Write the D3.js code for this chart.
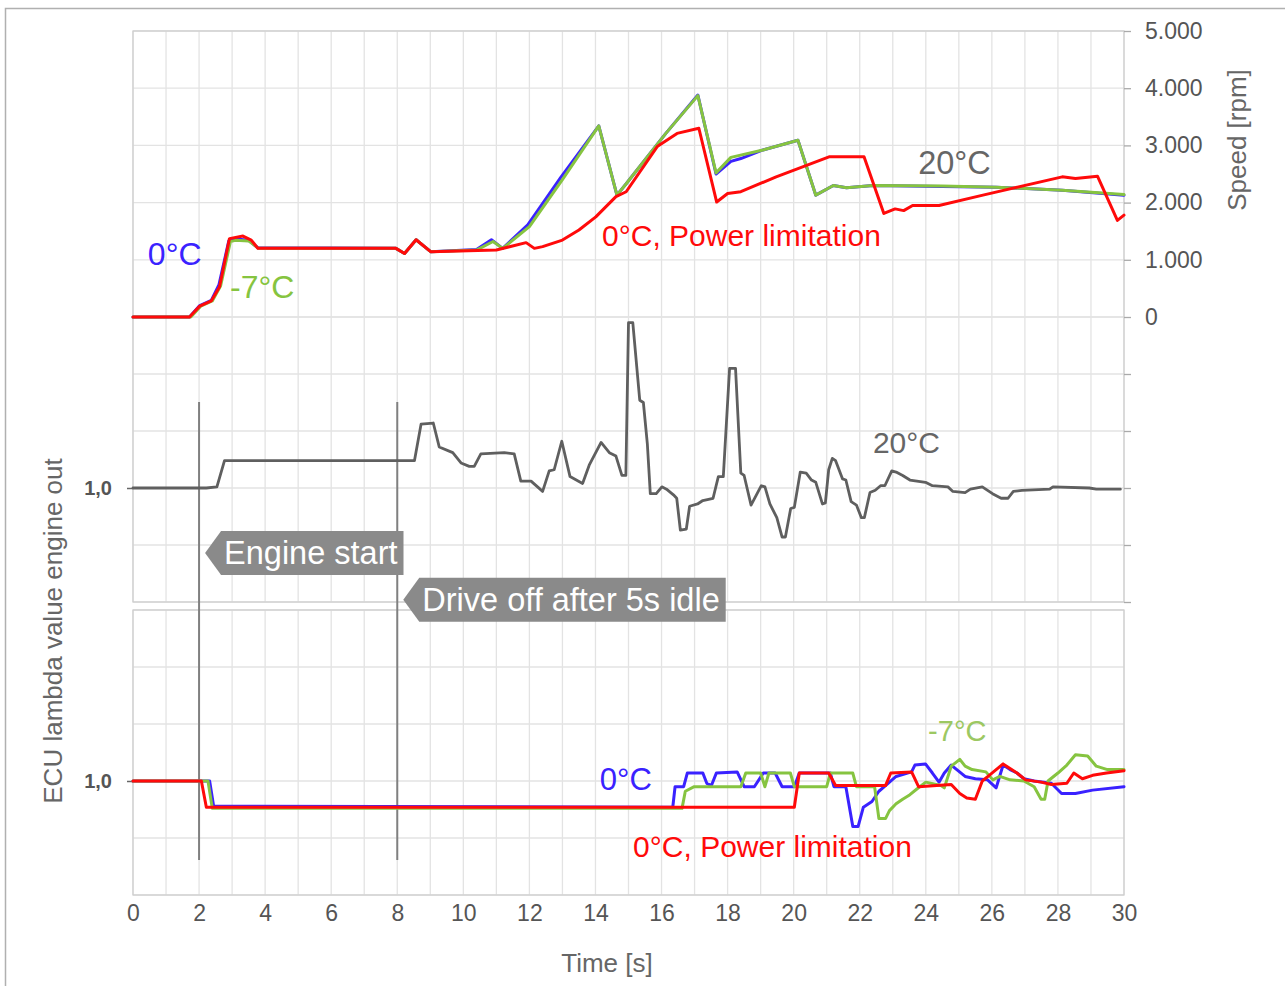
<!DOCTYPE html>
<html>
<head>
<meta charset="utf-8">
<script src="https://cdn.jsdelivr.net/npm/d3@7"></script>
<style>
  body { margin: 0; background: #fff; }
  svg { display: block; font-family: "Liberation Sans", Arial, sans-serif; }
</style>
</head>
<body>
<svg id="chart" width="1285" height="986"></svg>
<script>
// ---- data ----
const timeTicks = [0, 2, 4, 6, 8, 10, 12, 14, 16, 18, 20, 22, 24, 26, 28, 30];
const speedTicks = [0, 1000, 2000, 3000, 4000, 5000];
const speedTickLabels = ["0", "1.000", "2.000", "3.000", "4.000", "5.000"];
const lambdaGrid = [0.9, 0.95, 1.0, 1.05, 1.1, 1.15];
const lambdaLabel = "1,0";
const markerTimes = [2, 8];

// engine speed [rpm] vs time [s]
const speed0C = [[0,0],[1.71,0],[2.02,200],[2.37,290],[2.6,560],[2.9,1330],[3.05,1370],[3.5,1340],[3.78,1210],
  [7.96,1200],[8.22,1110],[8.57,1350],[9.02,1140],[10.4,1180],[10.85,1350],[11.19,1200],[11.95,1610],
  [12.95,2440],[14.1,3340],[14.65,2130],[14.93,2330],[16.13,3210],[17.1,3880],[17.65,2500],[18.1,2720],
  [18.4,2770],[19.07,2920],[20.13,3090],[20.67,2130],[21.2,2300],[21.6,2260],[22.4,2300],[24.5,2280],
  [26.13,2270],[28.13,2215],[30,2130]];
const speedMinus7C = [[0,0],[1.75,0],[2.05,190],[2.4,280],[2.65,540],[2.95,1320],[3.1,1340],[3.5,1330],[3.8,1200],
  [7.96,1200],[8.22,1110],[8.57,1350],[9.02,1140],[10.4,1170],[10.9,1320],[11.19,1200],[12.0,1580],
  [13.0,2400],[14.1,3340],[14.65,2130],[14.93,2330],[16.13,3210],[17.1,3870],[17.65,2520],[18.1,2790],
  [19.07,2920],[20.13,3090],[20.67,2130],[21.2,2300],[21.6,2260],[22.4,2300],[24.5,2290],[26.13,2270],
  [28.13,2215],[30,2140]];
const speed0CPower = [[0,0],[1.71,0],[2.02,190],[2.37,280],[2.62,530],[2.92,1370],[3.33,1415],[3.58,1345],[3.78,1200],
  [7.96,1200],[8.22,1110],[8.57,1350],[9.02,1140],[11.0,1170],[11.9,1300],[12.15,1200],[12.4,1230],
  [13.0,1345],[13.5,1520],[14.01,1750],[14.62,2105],[14.93,2190],[15.87,2980],[16.47,3210],[17.13,3300],
  [17.67,2010],[18.0,2160],[18.4,2190],[19.47,2450],[21.07,2800],[22.13,2800],[22.73,1810],[23.07,1890],
  [23.33,1860],[23.6,1950],[24.4,1950],[25.73,2130],[28.13,2450],[28.53,2420],[29.2,2460],[29.8,1690],[30,1780]];

// ECU lambda, 20 °C (middle panel)
const lambda20C = [[0,1],[2.22,1],[2.54,1.001],[2.77,1.024],[8.52,1.024],[8.72,1.056],[9.09,1.057],[9.27,1.036],
  [9.68,1.031],[9.93,1.022],[10.18,1.019],[10.33,1.019],[10.53,1.03],[11.24,1.031],[11.54,1.03],[11.74,1.006],
  [12.05,1.006],[12.4,0.997],[12.6,1.015],[12.75,1.016],[12.98,1.041],[13.23,1.01],[13.61,1.004],[13.81,1.02],
  [14.17,1.04],[14.42,1.031],[14.62,1.028],[14.8,1.011],[14.92,1.011],[15.0,1.145],[15.13,1.145],[15.34,1.077],
  [15.45,1.075],[15.57,1.039],[15.66,0.995],[15.84,0.995],[16.01,1.001],[16.15,0.999],[16.36,0.994],[16.46,0.991],
  [16.57,0.963],[16.75,0.964],[16.85,0.984],[17.09,0.986],[17.25,0.989],[17.56,0.991],[17.72,1.01],[17.87,1.01],
  [18.06,1.105],[18.24,1.105],[18.4,1.013],[18.5,1.011],[18.71,0.985],[19.02,1.002],[19.13,1.001],[19.28,0.986],
  [19.49,0.974],[19.65,0.957],[19.75,0.957],[19.91,0.982],[20.02,0.983],[20.2,1.014],[20.38,1.013],[20.54,1.007],
  [20.67,1.005],[20.87,0.986],[20.96,0.987],[21.06,1.016],[21.17,1.026],[21.27,1.024],[21.48,1.008],[21.58,1.007],
  [21.74,0.988],[21.9,0.985],[22.05,0.974],[22.14,0.974],[22.31,0.996],[22.47,0.998],[22.63,1.002],[22.76,1.002],
  [22.97,1.015],[23.1,1.014],[23.3,1.011],[23.52,1.007],[23.99,1.005],[24.2,1.002],[24.67,1.001],[24.82,0.997],
  [25.19,0.996],[25.35,0.999],[25.71,1.001],[26.02,0.995],[26.28,0.991],[26.49,0.991],[26.65,0.997],[26.91,0.998],
  [27.75,0.999],[27.85,1.001],[28.95,1.0],[29.16,0.999],[29.89,0.999]];

// ECU lambda, bottom panel
const lambda0C = [[0,1],[2.32,1],[2.44,0.978],[16.34,0.977],[16.41,0.995],[16.67,0.995],[16.78,1.007],[17.25,1.007],
  [17.37,0.998],[17.51,0.996],[17.66,1.007],[18.29,1.008],[18.5,0.995],[18.81,0.995],[19.08,1.007],[19.44,1.007],
  [19.65,0.995],[20.02,0.995],[20.17,1.007],[21.11,1.007],[21.22,0.995],[21.58,0.995],[21.79,0.96],[21.95,0.96],
  [22.11,0.977],[22.37,0.982],[22.58,0.991],[22.78,0.996],[23.1,1.004],[23.57,1.008],[23.67,1.014],[23.99,1.015],
  [24.2,1.007],[24.4,0.999],[24.56,1.007],[24.77,1.014],[25.19,1.004],[25.5,1.002],[25.87,1.001],[26.13,0.994],
  [26.34,1.014],[26.55,1.01],[26.76,1.007],[26.97,1.002],[27.28,1.0],[27.8,0.998],[28.11,0.989],[28.53,0.989],
  [29.05,0.992],[30,0.995]];
const lambdaMinus7C = [[0,1],[2.27,1],[2.4,0.976],[16.62,0.976],[16.72,0.991],[16.99,0.995],[18.4,0.995],[18.55,1.007],
  [19.0,1.007],[19.13,0.995],[19.25,1.007],[19.9,1.007],[20.02,0.995],[21.0,0.995],[21.11,1.007],[21.79,1.007],
  [21.9,0.995],[22.45,0.995],[22.58,0.967],[22.78,0.967],[22.9,0.974],[23.1,0.98],[23.3,0.984],[23.52,0.988],
  [23.73,0.993],[24.0,0.999],[24.46,0.996],[24.56,0.994],[24.77,1.013],[25.03,1.019],[25.19,1.013],[25.4,1.01],
  [25.82,1.008],[26.03,1.001],[26.24,1.004],[26.55,1.001],[26.97,1.0],[27.28,0.995],[27.49,0.984],[27.6,0.984],
  [27.7,1.0],[28.0,1.007],[28.27,1.014],[28.53,1.023],[28.9,1.022],[29.16,1.013],[29.5,1.01],[30,1.01]];
const lambda0CPower = [[0,1],[2.07,1],[2.22,0.977],[20.02,0.977],[20.17,1.007],[21.06,1.007],[21.27,0.996],[22.78,0.996],
  [22.94,1.007],[23.57,1.008],[23.78,0.995],[24.77,0.997],[25.03,0.989],[25.24,0.985],[25.5,0.984],[25.71,1.0],
  [25.92,1.005],[26.34,1.015],[26.76,1.007],[27.02,1.001],[27.49,0.999],[27.8,0.997],[28.27,0.998],[28.48,1.007],
  [28.74,1.002],[29.05,1.005],[29.47,1.007],[30,1.009]];

// ---- drawing ----
const BLUE = "#3a22ff", GREEN = "#86c440", RED = "#ff0a0a", GRAY = "#666";
const svg = d3.select("#chart");

const x = d3.scaleLinear().domain([0, 30]).range([133, 1124]);
const ySpeed = d3.scaleLinear().domain([0, 5000]).range([317, 31]);
const yMid = d3.scaleLinear().domain([0.9, 1.15]).range([602, 317]);
const yBot = d3.scaleLinear().domain([0.9, 1.15]).range([895, 610]);

// outer frame
svg.append("rect").attr("x", 5.5).attr("y", 8.5).attr("width", 1300).attr("height", 1000)
  .attr("fill", "none").attr("stroke", "#b0b0b0").attr("stroke-width", 1.5);

// grids
const grid = svg.append("g").attr("stroke", "#e3e3e3").attr("stroke-width", 1.3);
const seconds = d3.range(0, 31);
grid.selectAll(".vu").data(seconds).join("line")
  .attr("x1", d => x(d)).attr("x2", d => x(d)).attr("y1", ySpeed(5000)).attr("y2", yMid(0.9));
grid.selectAll(".vb").data(seconds).join("line").attr("class", "vb")
  .attr("x1", d => x(d)).attr("x2", d => x(d)).attr("y1", yBot(1.15)).attr("y2", yBot(0.9));
grid.selectAll(".hs").data(speedTicks).join("line").attr("class", "hs")
  .attr("x1", x(0)).attr("x2", x(30)).attr("y1", d => ySpeed(d)).attr("y2", d => ySpeed(d));
grid.selectAll(".hm").data(lambdaGrid).join("line").attr("class", "hm")
  .attr("x1", x(0)).attr("x2", x(30)).attr("y1", d => yMid(d)).attr("y2", d => yMid(d));
grid.selectAll(".hb").data(lambdaGrid).join("line").attr("class", "hb")
  .attr("x1", x(0)).attr("x2", x(30)).attr("y1", d => yBot(d)).attr("y2", d => yBot(d));

// panel borders
svg.append("rect").attr("x", x(0)).attr("y", ySpeed(5000)).attr("width", x(30) - x(0))
  .attr("height", yMid(0.9) - ySpeed(5000)).attr("fill", "none").attr("stroke", "#cfcfcf").attr("stroke-width", 1.3);
svg.append("rect").attr("x", x(0)).attr("y", yBot(1.15)).attr("width", x(30) - x(0))
  .attr("height", yBot(0.9) - yBot(1.15)).attr("fill", "none").attr("stroke", "#cfcfcf").attr("stroke-width", 1.3);

// right speed axis
const axRight = svg.append("g").attr("transform", `translate(${x(30)},0)`)
  .call(d3.axisRight(ySpeed).tickValues(speedTicks).tickSize(7).tickPadding(14)
    .tickFormat((d, i) => speedTickLabels[i]));
axRight.append("g").call(d3.axisRight(yMid).tickValues(lambdaGrid.slice(0, 5)).tickSize(7).tickFormat(""));
axRight.selectAll(".domain").remove();
axRight.selectAll("line").attr("stroke", "#aaa").attr("stroke-width", 1.3);
axRight.selectAll("text").attr("fill", "#555").style("font-size", "23px");

// left lambda labels
[yMid, yBot].forEach(sc => {
  const g = svg.append("g").attr("transform", `translate(${x(0)},0)`)
    .call(d3.axisLeft(sc).tickValues([1.0]).tickSize(6).tickPadding(15).tickFormat(() => lambdaLabel));
  g.select(".domain").remove();
  g.selectAll("line").attr("stroke", "#666").attr("stroke-width", 1.5);
  g.selectAll("text").attr("fill", "#555").style("font-size", "20px").style("font-weight", "bold");
});

// bottom time axis
const axBottom = svg.append("g").attr("transform", `translate(0,${yBot(0.9)})`)
  .call(d3.axisBottom(x).tickValues(timeTicks).tickSize(0).tickPadding(10));
axBottom.select(".domain").remove();
axBottom.selectAll("text").attr("fill", "#555").style("font-size", "23px");

// axis titles
svg.append("text").attr("x", 607).attr("y", 972).attr("text-anchor", "middle")
  .attr("fill", GRAY).style("font-size", "26px").text("Time [s]");
svg.append("text").attr("transform", "translate(1246,140) rotate(-90)").attr("text-anchor", "middle")
  .attr("fill", GRAY).style("font-size", "26px").text("Speed [rpm]");
svg.append("text").attr("transform", "translate(62,631) rotate(-90)").attr("text-anchor", "middle")
  .attr("fill", GRAY).style("font-size", "26px").text("ECU lambda value engine out");

// event markers
svg.append("g").selectAll("line").data(markerTimes).join("line")
  .attr("x1", d => x(d)).attr("x2", d => x(d)).attr("y1", 402).attr("y2", 860)
  .attr("stroke", "#808080").attr("stroke-width", 2);

// lines
const drawLine = (data, yScale, color, width) => svg.append("path").datum(data)
  .attr("fill", "none").attr("stroke", color).attr("stroke-width", width)
  .attr("stroke-linejoin", "round").attr("stroke-linecap", "round")
  .attr("d", d3.line().x(d => x(d[0])).y(d => yScale(d[1])));

drawLine(speed0C, ySpeed, BLUE, 3);
drawLine(speedMinus7C, ySpeed, GREEN, 3);
drawLine(speed0CPower, ySpeed, RED, 3);
drawLine(lambda20C, yMid, "#5f5f5f", 2.8);
drawLine(lambda0C, yBot, BLUE, 3);
drawLine(lambdaMinus7C, yBot, GREEN, 3);
drawLine(lambda0CPower, yBot, RED, 3);

// annotation tags
function tag(t, yVal, yScale, label) {
  const tipX = x(t) + 6, cy = yScale(yVal), h = 44, arrow = 16;
  const g = svg.append("g");
  const txt = g.append("text").attr("x", tipX + arrow + 3).attr("y", cy + 11)
    .attr("fill", "#fff").style("font-size", "32.5px").text(label);
  const w = txt.node().getComputedTextLength();
  const right = tipX + arrow + 3 + w + 6;
  g.insert("path", "text").attr("fill", "#8a8a8a")
    .attr("d", `M${tipX},${cy} L${tipX + arrow},${cy - h / 2} L${right},${cy - h / 2} L${right},${cy + h / 2} L${tipX + arrow},${cy + h / 2} Z`);
}
tag(2, 0.943, yMid, "Engine start");
tag(8, 0.902, yMid, "Drive off after 5s idle");

// series labels
const label = (t, v, yScale, text, color, size) => svg.append("text")
  .attr("x", x(t)).attr("y", yScale(v)).attr("fill", color).style("font-size", size + "px").text(text);
label(0.45, 910, ySpeed, "0°C", BLUE, 32);
label(2.94, 330, ySpeed, "-7°C", GREEN, 32);
label(14.2, 1245, ySpeed, "0°C, Power limitation", RED, 30);
label(23.77, 2495, ySpeed, "20°C", GRAY, 32.5);
label(22.4, 1.031, yMid, "20°C", GRAY, 30);
label(14.13, 0.9917, yBot, "0°C", BLUE, 31);
label(24.07, 1.0351, yBot, "-7°C", "#9cc862", 29);
label(15.14, 0.9333, yBot, "0°C, Power limitation", RED, 30);
</script>
</body>
</html>
